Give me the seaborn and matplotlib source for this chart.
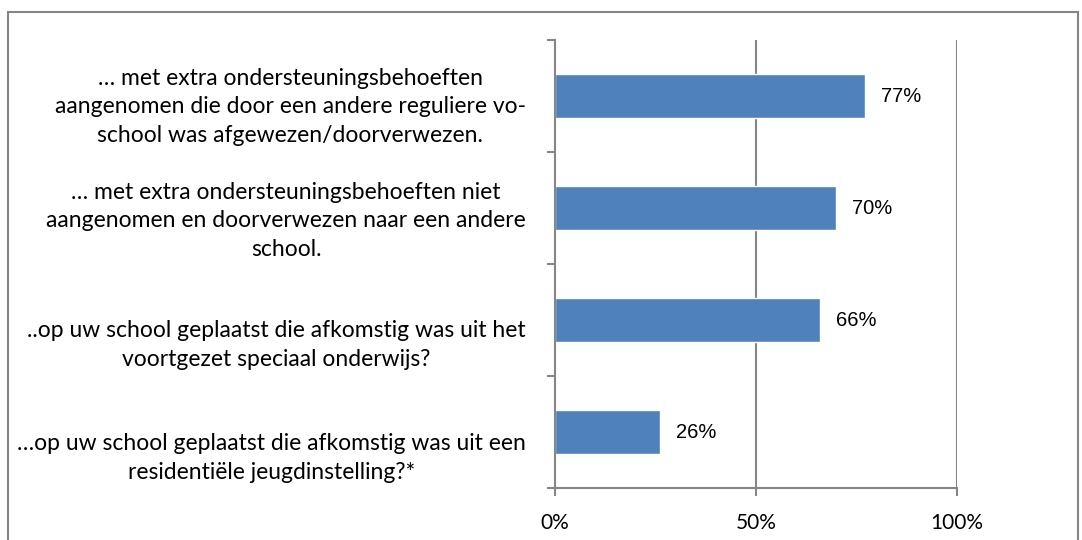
import matplotlib
matplotlib.use('Agg')
import matplotlib.pyplot as plt
import matplotlib.transforms as mtransforms
import seaborn as sns
import pandas as pd
from matplotlib.patches import Rectangle

# data
labels = [
    '… met extra ondersteuningsbehoeften\naangenomen die door een andere reguliere vo-\nschool was afgewezen/doorverwezen.',
    '… met extra ondersteuningsbehoeften niet\naangenomen en doorverwezen naar een andere\nschool.',
    '..op uw school geplaatst die afkomstig was uit het\nvoortgezet speciaal onderwijs?',
    '…op uw school geplaatst die afkomstig was uit een\nresidentiële jeugdinstelling?*',
]
values = [77, 70, 66, 26]
x_ticks = [0, 50, 100]
x_tick_labels = ['0%', '50%', '100%']

df = pd.DataFrame({'label': labels, 'value': values})

sns.set_theme(style='white')
plt.rcParams['font.family'] = ['Lato', 'DejaVu Sans']

W, H = 1082, 540
fig = plt.figure(figsize=(W / 100, H / 100), dpi=100)
ax = fig.add_axes([555 / W, 52 / H, 402 / W, 448 / H])

sns.barplot(data=df, x='value', y='label', orient='h', color='#4F81BD',
            saturation=1, width=0.4, ax=ax)

grid_c = '#868686'
ax.set_xlim(0, 100)
ax.set_ylim(len(labels) - 0.5, -0.5)
ax.set_xticks(x_ticks)
ax.set_xticklabels(x_tick_labels, fontsize=15, color='#000000')
ax.set_xlabel('')
ax.set_ylabel('')
for v in x_ticks[1:]:
    ax.axvline(v, color=grid_c, lw=1.5, zorder=0)

for s in ['top', 'right']:
    ax.spines[s].set_visible(False)
for s in ['left', 'bottom']:
    ax.spines[s].set_color(grid_c)
    ax.spines[s].set_linewidth(1.5)

# category labels at centers, tick marks at boundaries
ax.set_yticks(range(len(labels)))
ax.set_yticklabels(labels, fontsize=16.5, multialignment='center',
                   color='#000000', linespacing=1.45)
ax.tick_params(axis='y', which='major', length=0, pad=21)
ax.set_yticks([i - 0.5 for i in range(len(labels) + 1)], minor=True)
ax.tick_params(axis='y', which='minor', length=6, width=1.5, color=grid_c, left=True)
ax.tick_params(axis='x', which='major', length=6, width=1.5, color=grid_c, bottom=True, pad=12)

# labels sit a bit lower than the bar centres in the original (px)
shifts = [5, 7, 19, 20]
for lab, dy in zip(ax.get_yticklabels(), shifts):
    off = mtransforms.ScaledTranslation(0, -dy / 100, fig.dpi_scale_trans)
    lab.set_transform(lab.get_transform() + off)

for i, v in enumerate(values):
    ax.text(v + 4, i, f'{v}%', va='center', ha='left', fontsize=14.5,
            family=['Liberation Sans', 'DejaVu Sans'], color='#000000')

# outer chart border
fig.patches.append(Rectangle((8 / W, -0.02), 1070 / W, (H - 12) / H + 0.02,
                             transform=fig.transFigure, fill=False,
                             edgecolor='#868686', lw=1.5))

fig.savefig('out.png', dpi=100)
